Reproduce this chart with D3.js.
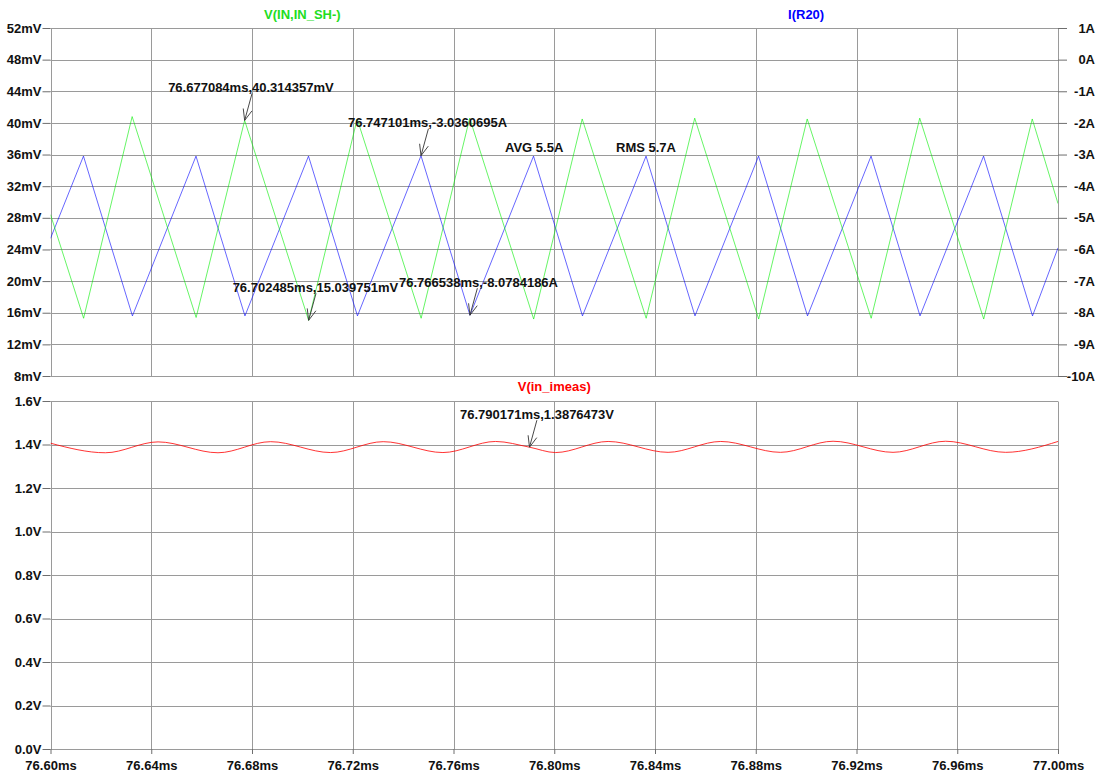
<!DOCTYPE html>
<html>
<head>
<meta charset="utf-8">
<script src="https://cdn.jsdelivr.net/npm/d3@7"></script>
<style>
  html, body { margin: 0; padding: 0; background: #ffffff; }
  svg { display: block; }
  text { font-family: "Liberation Sans", Arial, sans-serif; font-weight: bold; font-size: 13px; }
</style>
</head>
<body>
<svg id="chart" width="1103" height="776"></svg>
<script>
// ---- axis ticks ----
const timeTicks = [76.60, 76.64, 76.68, 76.72, 76.76, 76.80, 76.84, 76.88, 76.92, 76.96, 77.00];
const mvTicks = [8, 12, 16, 20, 24, 28, 32, 36, 40, 44, 48, 52];
const ampTicks = [-10, -9, -8, -7, -6, -5, -4, -3, -2, -1, 0, 1];
const voltTicks = [0.0, 0.2, 0.4, 0.6, 0.8, 1.0, 1.2, 1.4, 1.6];

// ---- V(IN,IN_SH-) : triangle vertices (ms, mV) ----
const greenTime = [76.6, 76.613145, 76.632414, 76.657815, 76.677084, 76.702485, 76.721754, 76.747155,
  76.766424, 76.791825, 76.811094, 76.836495, 76.855764, 76.881165, 76.900434, 76.925835,
  76.945104, 76.970505, 76.989774, 77.0];
const greenMv = [28.4, 15.3, 40.8, 15.4, 40.314357, 15.039751, 40.5, 15.3, 40.6, 15.2,
  40.5, 15.3, 40.6, 15.2, 40.5, 15.3, 40.6, 15.2, 40.5, 29.8];

// ---- I(R20) : triangle vertices (ms, A) ----
const blueTime = [76.6, 76.613091, 76.632528, 76.657761, 76.677198, 76.702431, 76.721868, 76.747101,
  76.766538, 76.791771, 76.811208, 76.836441, 76.855878, 76.881111, 76.900548, 76.925781,
  76.945218, 76.970451, 76.989888, 77.0];
const blueAmp = [-5.65, -3.05, -8.1, -3.05, -8.1, -3.05, -8.1, -3.0360695, -8.0784186, -3.05,
  -8.1, -3.05, -8.1, -3.05, -8.1, -3.05, -8.1, -3.05, -8.1, -5.95];

// ---- V(in_imeas) : ripple extrema (ms, V) ----
const redTime = [76.6, 76.6218, 76.6427, 76.6665, 76.6874, 76.7112, 76.7321, 76.7558, 76.7767,
  76.790171, 76.8005, 76.8214, 76.8452, 76.8661, 76.8898, 76.9107, 76.9345, 76.9554, 76.9792, 77.0];
const redVolt = [1.406, 1.362, 1.412, 1.362, 1.413, 1.363, 1.413, 1.363, 1.414,
  1.3876473, 1.363, 1.414, 1.364, 1.414, 1.364, 1.415, 1.364, 1.415, 1.364, 1.414];

// ---- cursor readouts ----
const cursorTime = [76.677084, 76.747101, 76.702485, 76.766538, 76.790171];
const cursorValue = [40.314357, -3.0360695, 15.039751, -8.0784186, 1.3876473];
const cursorAxis = ["mv", "amp", "mv", "amp", "volt"];
const cursorUnit = ["mV", "A", "mV", "A", "V"];

// measurement labels
const measText = ["AVG 5.5A", "RMS 5.7A"];

// ---- layout ----
const plotLeft = 50.5, plotRight = 1058;
const topY0 = 28, topY1 = 376;
const botY0 = 401, botY1 = 749;
const gridColor = "#9a9a9a";
const GREEN = "#00ee00", BLUE = "#0000ff", RED = "#ff0000";

const svg = d3.select("#chart");

const x = d3.scaleLinear().domain([76.6, 77.0]).range([plotLeft, plotRight]);
const yMv = d3.scaleLinear().domain([8, 52]).range([topY1, topY0]);
const yAmp = d3.scaleLinear().domain([-10, 1]).range([topY1, topY0]);
const yVolt = d3.scaleLinear().domain([0, 1.6]).range([botY1, botY0]);

const crisp = v => Math.round(v) + 0.5;

function drawGrid(yScale, ticks, y0, y1) {
  const g = svg.append("g");
  g.selectAll("line.h").data(ticks).join("line")
    .attr("x1", plotLeft).attr("x2", plotRight)
    .attr("y1", d => crisp(yScale(d))).attr("y2", d => crisp(yScale(d)))
    .attr("stroke", gridColor).attr("stroke-width", 1);
  g.selectAll("line.v").data(timeTicks).join("line")
    .attr("x1", d => crisp(x(d))).attr("x2", d => crisp(x(d)))
    .attr("y1", crisp(y0)).attr("y2", crisp(y1))
    .attr("stroke", gridColor).attr("stroke-width", 1);
}

drawGrid(yMv, mvTicks, topY0, topY1);
drawGrid(yVolt, voltTicks, botY0, botY1);

function styleAxis(g) {
  g.select(".domain").remove();
  g.selectAll(".tick line").attr("stroke", "#6e6e6e");
  g.selectAll(".tick text").attr("fill", "#111").style("font-family", "'Liberation Sans', Arial, sans-serif")
    .style("font-weight", "bold").style("font-size", "13px");
}

// left axis, top pane (mV)
svg.append("g").attr("transform", `translate(${plotLeft},0)`)
  .call(d3.axisLeft(yMv).tickValues(mvTicks).tickSize(8).tickPadding(1).tickFormat(d => d + "mV"))
  .call(styleAxis);

// right axis, top pane (A) – labels right-aligned
const ampAxis = svg.append("g").attr("transform", `translate(${plotRight},0)`)
  .call(d3.axisRight(yAmp).tickValues(ampTicks).tickSize(9).tickPadding(1).tickFormat(d => d + "A"))
  .call(styleAxis);
ampAxis.selectAll(".tick text").attr("text-anchor", "end").attr("x", 37);

// left axis, bottom pane (V)
svg.append("g").attr("transform", `translate(${plotLeft},0)`)
  .call(d3.axisLeft(yVolt).tickValues(voltTicks).tickSize(8).tickPadding(1).tickFormat(d => d.toFixed(1) + "V"))
  .call(styleAxis);

// time axis under bottom pane
svg.append("g").attr("transform", `translate(0,${botY1})`)
  .call(d3.axisBottom(x).tickValues(timeTicks).tickSize(5).tickPadding(7).tickFormat(d => d.toFixed(2) + "ms"))
  .call(styleAxis);

// clip regions for the traces
const defs = svg.append("defs");
defs.append("clipPath").attr("id", "clipTop").append("rect")
  .attr("x", plotLeft).attr("y", topY0).attr("width", plotRight - plotLeft).attr("height", topY1 - topY0);
defs.append("clipPath").attr("id", "clipBot").append("rect")
  .attr("x", plotLeft).attr("y", botY0).attr("width", plotRight - plotLeft).attr("height", botY1 - botY0);

const greenPts = greenTime.map((t, i) => [t, greenMv[i]]);
const bluePts = blueTime.map((t, i) => [t, blueAmp[i]]);
const redPts = redTime.map((t, i) => [t, redVolt[i]]);

svg.append("path").datum(bluePts).attr("clip-path", "url(#clipTop)")
  .attr("fill", "none").attr("stroke", BLUE).attr("stroke-width", 1).attr("stroke-opacity", 0.6)
  .attr("d", d3.line().x(d => x(d[0])).y(d => yAmp(d[1])));

svg.append("path").datum(greenPts).attr("clip-path", "url(#clipTop)")
  .attr("fill", "none").attr("stroke", GREEN).attr("stroke-width", 1).attr("stroke-opacity", 0.6)
  .attr("d", d3.line().x(d => x(d[0])).y(d => yMv(d[1])));

svg.append("path").datum(redPts).attr("clip-path", "url(#clipBot)")
  .attr("fill", "none").attr("stroke", RED).attr("stroke-width", 1).attr("stroke-opacity", 0.8)
  .attr("d", d3.line().curve(d3.curveMonotoneX).x(d => x(d[0])).y(d => yVolt(d[1])));

// trace names
const midTop = (plotLeft + plotRight) / 2;
svg.append("text").attr("x", plotLeft + (plotRight - plotLeft) * 0.25).attr("y", 14).attr("dy", "0.35em")
  .attr("text-anchor", "middle").attr("fill", "#22dd22").text("V(IN,IN_SH-)");
svg.append("text").attr("x", plotLeft + (plotRight - plotLeft) * 0.75).attr("y", 14).attr("dy", "0.35em")
  .attr("text-anchor", "middle").attr("fill", BLUE).text("I(R20)");
svg.append("text").attr("x", midTop).attr("y", 386).attr("dy", "0.35em")
  .attr("text-anchor", "middle").attr("fill", RED).text("V(in_imeas)");

// cursor readouts with arrows
const yFor = { mv: yMv, amp: yAmp, volt: yVolt };
const labelOffsetX = [-76.5, -73, -76, -71, -69.5];
const labelOffsetY = -33;
const ann = svg.append("g");
cursorTime.forEach((t, i) => {
  const tx = x(t), ty = yFor[cursorAxis[i]](cursorValue[i]);
  const tailX = tx + 7.4, tailY = ty - 27;
  const ang = Math.atan2(tailY - ty, tailX - tx);
  const headLen = 12, spread = 22 * Math.PI / 180;
  ann.append("line").attr("x1", tx).attr("y1", ty).attr("x2", tailX).attr("y2", tailY)
    .attr("stroke", "#333").attr("stroke-width", 0.9);
  [ang + spread, ang - spread].forEach(a => {
    ann.append("line").attr("x1", tx).attr("y1", ty)
      .attr("x2", tx + headLen * Math.cos(a)).attr("y2", ty + headLen * Math.sin(a))
      .attr("stroke", "#333").attr("stroke-width", 0.9);
  });
  ann.append("text").attr("x", tx + labelOffsetX[i]).attr("y", ty + labelOffsetY).attr("dy", "0.35em")
    .attr("fill", "#111").text(t.toFixed(6) + "ms," + cursorValue[i] + cursorUnit[i]);
});

// measurement readouts
svg.append("text").attr("x", 505).attr("y", 147).attr("dy", "0.35em").attr("fill", "#111").text(measText[0]);
svg.append("text").attr("x", 616).attr("y", 147).attr("dy", "0.35em").attr("fill", "#111").text(measText[1]);
</script>
</body>
</html>
